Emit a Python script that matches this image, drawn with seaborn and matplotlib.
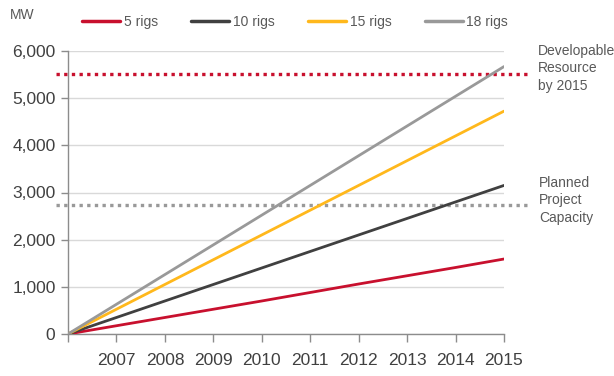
import matplotlib
matplotlib.use("Agg")
import matplotlib.pyplot as plt
import seaborn as sns
import pandas as pd

years = [2006, 2007, 2008, 2009, 2010, 2011, 2012, 2013, 2014, 2015]
rigs_5 = [0, 175, 350, 525, 700, 880, 1060, 1235, 1410, 1590]
rigs_10 = [0, 350, 700, 1050, 1400, 1750, 2100, 2450, 2800, 3150]
rigs_15 = [0, 525, 1050, 1575, 2100, 2625, 3150, 3675, 4200, 4725]
rigs_18 = [0, 630, 1260, 1890, 2520, 3150, 3780, 4410, 5040, 5670]
series_names = ["5 rigs", "10 rigs", "15 rigs", "18 rigs"]
series_colors = ["#C8102E", "#404040", "#FFB81C", "#999999"]

developable_resource = 5520
planned_capacity = 2730
x_tick_labels = ["", "2007", "2008", "2009", "2010", "2011", "2012", "2013", "2014", "2015"]
y_ticks = [0, 1000, 2000, 3000, 4000, 5000, 6000]

df = pd.DataFrame({
    "year": years * 4,
    "MW": rigs_5 + rigs_10 + rigs_15 + rigs_18,
    "scenario": sum([[n] * len(years) for n in series_names], []),
})

sns.set_theme(style="white")
plt.rcParams["font.family"] = ["Liberation Sans", "DejaVu Sans"]

fig = plt.figure(figsize=(6.14, 3.76), dpi=100)
ax = fig.add_axes([68 / 614, 1 - 334 / 376, (504 - 68) / 614, (334 - 51) / 376])

sns.lineplot(data=df, x="year", y="MW", hue="scenario", hue_order=series_names,
             palette=series_colors, linewidth=2, ax=ax, legend=False, zorder=3)

ax.set_xlim(2006, 2015)
ax.set_ylim(0, 6000)
ax.set_xticks(years)
ax.set_xticklabels(x_tick_labels)
ax.set_yticks(y_ticks)
ax.set_yticklabels([f"{v:,}" for v in y_ticks])
ax.set_xlabel("")
ax.set_ylabel("")

ax.grid(axis="y", color="#D9D9D9", linewidth=1)
ax.grid(axis="x", visible=False)
ax.set_axisbelow(True)
for side in ["top", "right"]:
    ax.spines[side].set_visible(False)
for side in ["left", "bottom"]:
    ax.spines[side].set_color("#8C8C8C")
    ax.spines[side].set_linewidth(1)

ax.tick_params(axis="x", direction="out", length=6, width=1, color="#8C8C8C",
               labelsize=12.5, labelcolor="#404040", pad=8, bottom=True)
ax.tick_params(axis="y", direction="out", length=5, width=1, color="#8C8C8C",
               labelsize=12.5, labelcolor="#404040", pad=4, left=True)

# reference levels, running past both ends of the axes
ref_x = [2005.75, 2015.55]
dot_style = (0, (1, 1.3))
ax.plot(ref_x, [developable_resource] * 2, color="#C8102E", linewidth=2.4,
        linestyle=dot_style, clip_on=False, zorder=2)
ax.plot(ref_x, [planned_capacity] * 2, color="#999999", linewidth=2.4,
        linestyle=dot_style, clip_on=False, zorder=2)

note_kw = dict(fontsize=10, color="#595959", va="top", ha="left", linespacing=1.3)
fig.text(538 / 614, 1 - 44 / 376, "Developable\nResource\nby 2015", **note_kw)
fig.text(539 / 614, 1 - 176 / 376, "Planned\nProject\nCapacity", **note_kw)
fig.text(10 / 614, 1 - 15 / 376, "MW", fontsize=10, color="#595959", va="center")

handles = [plt.Line2D([], [], color=c, linewidth=2.5) for c in series_colors]
leg = fig.legend(handles, series_names, loc="center", ncol=4,
                 bbox_to_anchor=(295 / 614, 1 - 22 / 376), frameon=False,
                 fontsize=10, handlelength=2.75, handletextpad=0.25,
                 columnspacing=2.4)
for t in leg.get_texts():
    t.set_color("#595959")

fig.savefig("out.png", dpi=100)
